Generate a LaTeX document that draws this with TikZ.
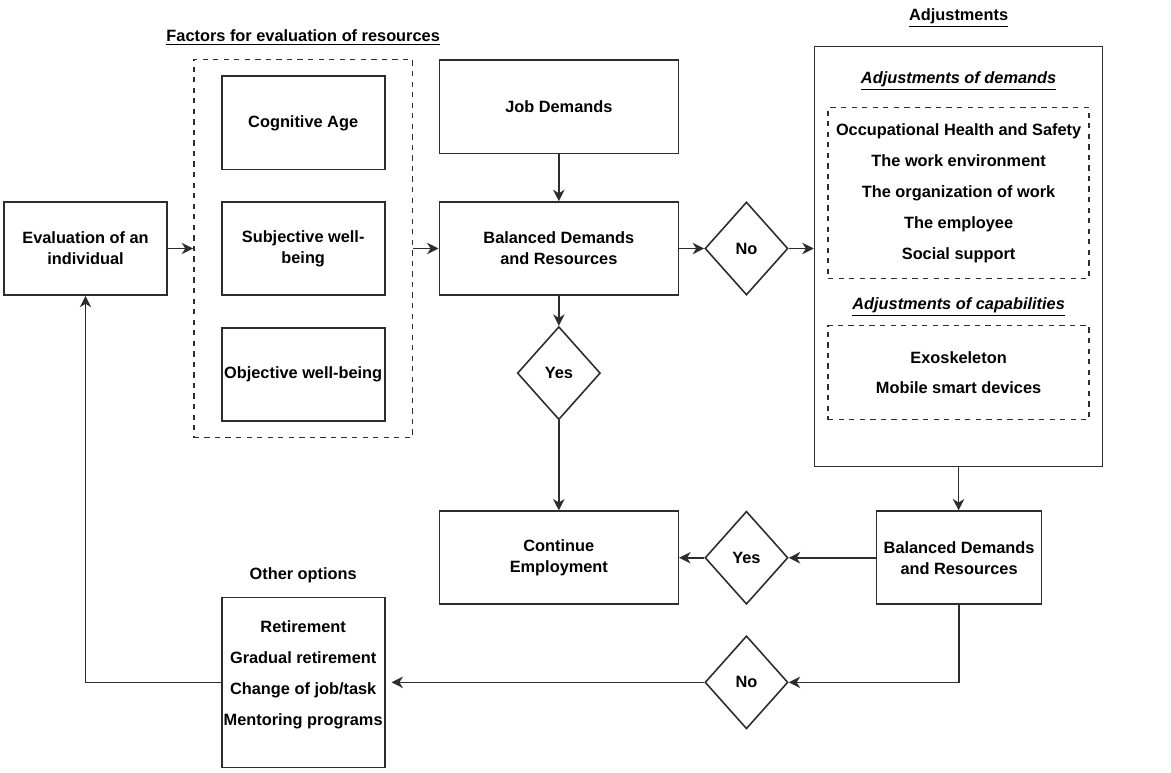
\documentclass[tikz,border=0pt]{standalone}
\usepackage{fontspec}
\setmainfont{Liberation Sans}
\usetikzlibrary{shapes.geometric, arrows, arrows.meta, positioning, fit, calc}
\definecolor{linegray}{RGB}{45,45,45}

\begin{document}
\begin{tikzpicture}[
    node distance=0.62cm and 0.54cm,
    every node/.style={font=\fontsize{9.3}{11.9}\selectfont\bfseries},
    block/.style={rectangle, draw=linegray, line width=0.95pt, minimum width=#1, minimum height=1.86cm, align=center, inner sep=1pt},
    block/.default=3.26cm,
    decision/.style={diamond, draw=linegray, line width=0.9pt, minimum width=1.66cm, minimum height=1.86cm, inner sep=0pt},
    group/.style={rectangle, draw=linegray, dashed, line width=0.8pt},
    listtext/.style={align=center, font=\fontsize{9.3}{17.6}\selectfont\bfseries},
    arr/.style={-{Stealth[length=6.5pt, width=6.5pt, inset=2pt]}, line width=0.9pt, draw=linegray},
]
\useasboundingbox (0,0) rectangle (23.42,-15.44);

% Evaluation and factors
\node[block] (eval) at (1.71,-4.97) {Evaluation of an\\individual};
\node[block, right=1.06cm of eval] (subjwb) {Subjective well-\\being};
\node[block, above=of subjwb] (cogage) {Cognitive Age};
\node[block, below=of subjwb] (objwb) {Objective well-being};

% Demands and resources
\node[block=4.78cm, right=1.06cm of subjwb] (bal1) {Balanced Demands\\and Resources};
\node[block=4.78cm, above=0.94cm of bal1] (jobdem) {Job Demands};
\node[decision, right=0.5cm of bal1] (no1) {No};
\node[decision, below=0.6cm of bal1] (yes1) {Yes};
\node[block=4.78cm, below=1.8cm of yes1] (cont) {Continue\\Employment};

% Adjustments
\node[rectangle, draw=linegray, line width=0.95pt, minimum width=5.76cm, minimum height=8.4cm, right=0.5cm of no1, yshift=-0.16cm] (adjust) {};
\node (demhead) at ([yshift=-0.7cm]adjust.north) {\underline{\textit{Adjustments of demands}}};
\node[group, listtext, minimum width=5.22cm, minimum height=3.42cm] (demlist) at ([yshift=-2.95cm]adjust.north) {Occupational Health and Safety\\The work environment\\The organization of work\\The employee\\Social support};
\node (caphead) at ([yshift=-5.22cm]adjust.north) {\underline{\textit{Adjustments of capabilities}}};
\node[group, listtext, minimum width=5.22cm, minimum height=1.88cm] (caplist) at ([yshift=-6.54cm]adjust.north) {Exoskeleton\\Mobile smart devices};

% Second check
\node[decision, right=0.5cm of cont] (yes2) {Yes};
\node[block=3.3cm, right=1.74cm of yes2] (bal2) {Balanced Demands\\and Resources};
\node[decision, below=0.6cm of yes2] (no2) {No};
\node[block, listtext, minimum height=3.4cm, text depth=0.36cm] (other) at (subjwb |- no2) {Retirement\\Gradual retirement\\Change of job/task\\Mentoring programs};

% Grouping and labels
\node[group, fit=(cogage)(objwb), inner xsep=0.54cm, inner ysep=0.32cm] (factors) {};
\node[above=0.15cm of factors] (factorslbl) {\underline{Factors for evaluation of resources}};
\node[above=0.24cm of adjust] (adjustlbl) {\underline{Adjustments}};
\node[above=0.15cm of other] (otherlbl) {Other options};

% Arrows
\draw[arr] (eval) -- (factors);
\draw[arr] (factors) -- (bal1);
\draw[arr] (jobdem) -- (bal1);
\draw[arr] (bal1) -- (no1);
\draw[arr] (no1) -- (no1 -| adjust.west);
\draw[arr] (bal1) -- (yes1);
\draw[arr] (yes1) -- (cont);
\draw[arr] (adjust.south) -- (adjust.south |- bal2.north);
\draw[arr] (bal2) -- (yes2);
\draw[arr] (yes2) -- (cont);
\draw[arr] (bal2.south) |- (no2);
\draw[arr, shorten >=0.12cm] (no2) -- (other);
\draw[arr] (other.west) -| (eval.south);
\end{tikzpicture}
\end{document}
